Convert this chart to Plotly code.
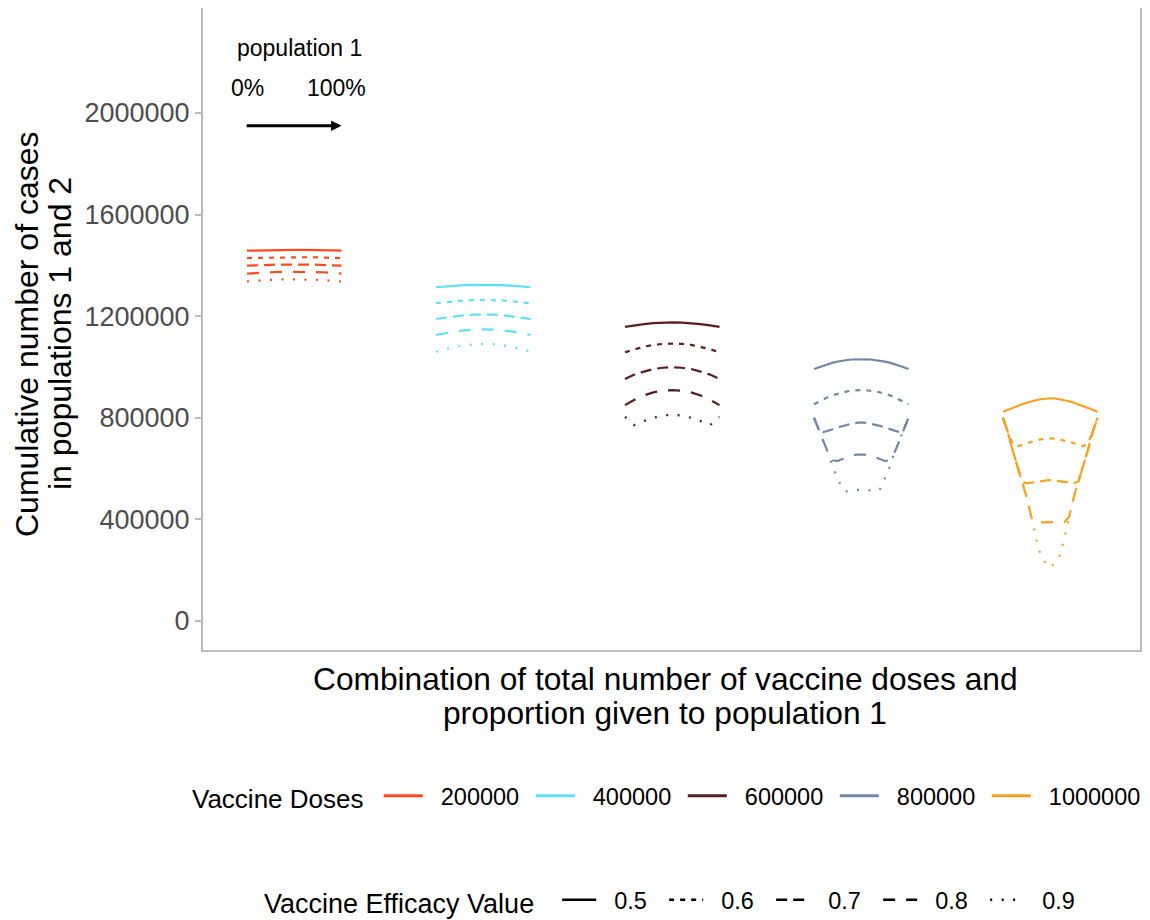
import plotly.graph_objects as go

# ---------------- data ----------------
doses = ["200000", "400000", "600000", "800000", "1000000"]
dose_colors = ["#FF4A1C", "#5FDFFF", "#5A1D1D", "#7388A6", "#F7A11E"]
efficacies = ["0.5", "0.6", "0.7", "0.8", "0.9"]
efficacy_dashes = ["solid", "5px,6px", "11px,6px", "12px,11px", "2px,9.5px"]

# proportion of doses given to population 1
prop_coarse = [0.0, 0.1, 0.2, 0.3, 0.4, 0.5, 0.6, 0.7, 0.8, 0.9, 1.0]
prop_fine = [0.0, 0.05, 0.1, 0.15, 0.2, 0.25, 0.3, 0.35, 0.4, 0.45, 0.5,
             0.55, 0.6, 0.65, 0.7, 0.75, 0.8, 0.85, 0.9, 0.95, 1.0]

# cumulative cases, one list per efficacy (0.5 .. 0.9)
cases_200000 = [
    [1458000, 1459000, 1460000, 1461000, 1461000, 1461000, 1461000, 1461000, 1460000, 1459000, 1458000],
    [1429000, 1430000, 1431000, 1432000, 1432000, 1432000, 1432000, 1432000, 1431000, 1430000, 1429000],
    [1399000, 1401000, 1402000, 1403000, 1403000, 1404000, 1403000, 1403000, 1402000, 1401000, 1399000],
    [1368000, 1371000, 1373000, 1374000, 1375000, 1375000, 1375000, 1374000, 1373000, 1371000, 1368000],
    [1337000, 1340000, 1342000, 1344000, 1345000, 1345000, 1345000, 1344000, 1342000, 1340000, 1337000],
]
cases_400000 = [
    [1314000, 1317000, 1320000, 1322000, 1323000, 1323000, 1323000, 1322000, 1320000, 1317000, 1314000],
    [1251000, 1255000, 1259000, 1262000, 1263000, 1264000, 1263000, 1262000, 1259000, 1255000, 1251000],
    [1189000, 1195000, 1200000, 1204000, 1206000, 1207000, 1206000, 1204000, 1200000, 1195000, 1189000],
    [1126000, 1134000, 1140000, 1144000, 1147000, 1148000, 1147000, 1144000, 1140000, 1134000, 1126000],
    [1060000, 1071000, 1080000, 1086000, 1090000, 1091000, 1090000, 1086000, 1080000, 1071000, 1060000],
]
cases_600000 = [
    [1158000, 1164000, 1169000, 1173000, 1175000, 1176000, 1175000, 1173000, 1169000, 1164000, 1158000],
    [1058000, 1070000, 1080000, 1087000, 1091000, 1092000, 1091000, 1087000, 1080000, 1070000, 1058000],
    [953000, 970000, 982000, 992000, 997000, 999000, 997000, 992000, 982000, 970000, 953000],
    [850000, 871000, 888000, 900000, 907000, 909000, 907000, 900000, 888000, 871000, 850000],
    [804000, 771000, 787000, 800000, 809000, 812000, 809000, 800000, 787000, 771000, 804000],
]
cases_800000 = [
    [992000, 999000, 1006000, 1012000, 1017000, 1021000, 1025000, 1027500, 1029500, 1030500, 1031000,
     1030500, 1029500, 1027500, 1025000, 1021000, 1017000, 1012000, 1006000, 999000, 992000],
    [853000, 863500, 873000, 881500, 889000, 895000, 900000, 904000, 907000, 908500, 909000,
     908500, 907000, 904000, 900000, 895000, 889000, 881500, 873000, 863500, 853000],
    [800000, 755000, 744000, 748000, 755000, 762000, 768000, 773000, 777000, 780000, 782000,
     780000, 777000, 773000, 768000, 762000, 755000, 748000, 744000, 755000, 800000],
    [800000, 755000, 706000, 661000, 632000, 630000, 638000, 645000, 651000, 655000, 656000,
     655000, 651000, 645000, 638000, 630000, 632000, 661000, 706000, 755000, 800000],
    [800000, 755000, 706000, 661000, 605000, 562000, 520000, 510000, 514000, 516000, 517000,
     516000, 514000, 510000, 520000, 562000, 605000, 661000, 706000, 755000, 800000],
]
cases_1000000 = [
    [824000, 832000, 839000, 846000, 853000, 859000, 865000, 869000, 873000, 876000, 877000,
     876000, 873000, 869000, 865000, 859000, 853000, 846000, 839000, 832000, 824000],
    [800000, 745000, 700000, 688000, 693000, 700000, 706000, 711000, 715000, 718000, 719000,
     718000, 715000, 711000, 706000, 700000, 693000, 688000, 700000, 745000, 800000],
    [800000, 745000, 675000, 610000, 550000, 542000, 544000, 547000, 550000, 553000, 555000,
     553000, 550000, 547000, 544000, 542000, 550000, 610000, 675000, 745000, 800000],
    [800000, 745000, 675000, 610000, 552000, 488000, 410000, 390000, 388000, 389000, 390000,
     389000, 388000, 390000, 410000, 488000, 552000, 610000, 675000, 745000, 800000],
    [800000, 745000, 675000, 610000, 552000, 488000, 410000, 325000, 258000, 229000, 210000,
     229000, 258000, 325000, 410000, 488000, 552000, 610000, 675000, 745000, 800000],
]

group_cases = [cases_200000, cases_400000, cases_600000, cases_800000, cases_1000000]
group_props = [prop_coarse, prop_coarse, prop_coarse, prop_fine, prop_fine]

y_tick_vals = [0, 400000, 800000, 1200000, 1600000, 2000000]
y_tick_text = ["0", "400000", "800000", "1200000", "1600000", "2000000"]

# ---------------- figure ----------------
FONT = "Liberation Sans, Arial, Helvetica, sans-serif"
NB = "\u00a0"
OFF = 8                      # page (body) margin of the html page
W, H = 1150 - OFF, 920 - OFF
ML, MR, MT, MB = 195, 10, 0, 270
PW, PH = W - ML - MR, H - MT - MB


def px_x(sx):
    """screen pixel x -> paper x"""
    return (sx - OFF - ML) / PW


def px_y(sy):
    """screen pixel y -> paper y"""
    return (H - MB - (sy - OFF)) / PH


fig = go.Figure()

for gi, (cases, props) in enumerate(zip(group_cases, group_props)):
    for ei, vals in enumerate(cases):
        fig.add_trace(go.Scatter(
            x=[2 * gi + p for p in props], y=vals, mode="lines",
            line=dict(color=dose_colors[gi], width=2.2, dash=efficacy_dashes[ei]),
            showlegend=False, hoverinfo="skip"))

# legend entries
for k, (dose, col) in enumerate(zip(doses, dose_colors)):
    trail = NB if k < len(doses) - 1 else ""
    fig.add_trace(go.Scatter(x=[None], y=[None], mode="lines", name=NB * 2 + dose + trail,
                             line=dict(color=col, width=3), legend="legend"))
for eff, dash in zip(efficacies, efficacy_dashes):
    fig.add_trace(go.Scatter(x=[None], y=[None], mode="lines", name=NB * 2 + eff,
                             line=dict(color="black", width=2.5, dash=dash), legend="legend2"))

border = "#BDBDBD"
fig.update_layout(
    width=W, height=H,
    margin=dict(l=ML, r=MR, t=MT, b=MB, autoexpand=False),
    paper_bgcolor="white", plot_bgcolor="white",
    font=dict(family=FONT, color="black"),
    xaxis=dict(range=[-0.466, 9.45], showgrid=False, zeroline=False, showticklabels=False,
               ticks="", showline=True, mirror=True, linecolor=border, linewidth=2,
               automargin=False),
    yaxis=dict(range=[-114200, 2413400], showgrid=False, zeroline=False,
               tickvals=y_tick_vals, ticktext=y_tick_text, ticks="outside", ticklen=6,
               tickcolor=border, tickwidth=2,
               tickfont=dict(size=27, color="#4D4D4D", family=FONT),
               showline=True, mirror=True, linecolor=border, linewidth=2,
               automargin=False),
    legend=dict(orientation="h", x=px_x(190), xanchor="left", y=px_y(796), yanchor="middle",
                title=dict(text="Vaccine Doses" + NB, side="left", font=dict(size=26, family=FONT)),
                font=dict(size=23.5, family=FONT), itemwidth=39,
                bgcolor="rgba(0,0,0,0)"),
    legend2=dict(orientation="h", x=px_x(262), xanchor="left", y=px_y(901), yanchor="middle",
                 title=dict(text="Vaccine Efficacy Value" + NB * 2, side="left",
                            font=dict(size=27, family=FONT)),
                 font=dict(size=23.5, family=FONT), itemwidth=34, entrywidth=58,
                 entrywidthmode="pixels", bgcolor="rgba(0,0,0,0)"),
    annotations=[
        dict(x=1, y=1950000, ax=-0.02, ay=1950000, xref="x", yref="y", axref="x", ayref="y",
             showarrow=True, arrowhead=2, arrowsize=0.7, arrowwidth=3, arrowcolor="black", text=""),
        dict(x=0.55, y=2256000, xref="x", yref="y", text="population 1", showarrow=False,
             font=dict(size=23, family=FONT)),
        dict(x=0.0, y=2098000, xref="x", yref="y", text="0%", showarrow=False,
             font=dict(size=23, family=FONT)),
        dict(x=0.95, y=2098000, xref="x", yref="y", text="100%", showarrow=False,
             font=dict(size=23, family=FONT)),
        dict(x=px_x(665), y=px_y(679), xref="paper", yref="paper", xanchor="center", yanchor="middle",
             text="Combination of total number of vaccine doses and",
             showarrow=False, font=dict(size=31.7, family=FONT)),
        dict(x=px_x(665), y=px_y(713), xref="paper", yref="paper", xanchor="center", yanchor="middle",
             text="proportion given to population 1",
             showarrow=False, font=dict(size=31.7, family=FONT)),
        dict(x=px_x(27), y=px_y(334), xref="paper", yref="paper", xanchor="center",
             yanchor="middle", textangle=-90, text="Cumulative number of cases",
             showarrow=False, font=dict(size=32, family=FONT)),
        dict(x=px_x(60), y=px_y(334), xref="paper", yref="paper", xanchor="center",
             yanchor="middle", textangle=-90, text="in populations 1 and 2",
             showarrow=False, font=dict(size=32, family=FONT)),
    ],
)

fig.write_html("out.html")
